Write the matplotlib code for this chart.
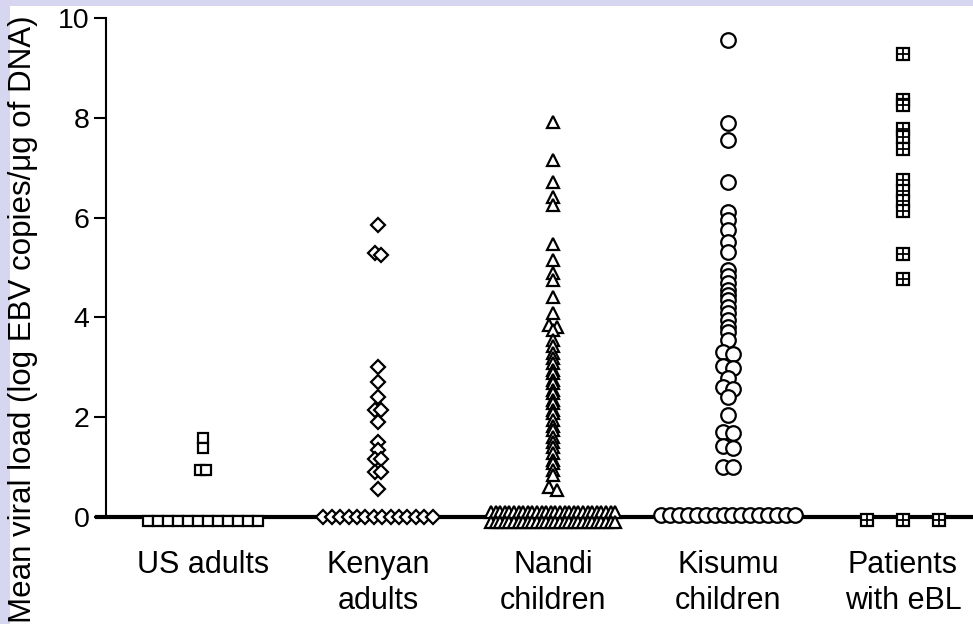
import numpy as np
import matplotlib.pyplot as plt
from matplotlib.patches import Rectangle

plt.rcParams['font.family'] = ['Liberation Sans', 'DejaVu Sans']

# Groups along the x axis
groups = ['US adults', 'Kenyan\nadults', 'Nandi\nchildren', 'Kisumu\nchildren', 'Patients\nwith eBL']

# Detectable viral loads (log EBV copies/ug of DNA)
us_adults = [1.58, 1.38, 0.95, 0.95]
kenyan_adults = [5.85, 5.3, 5.25, 3.01, 2.71, 2.41, 2.15, 2.15, 1.91, 1.51, 1.34,
                 1.17, 1.17, 0.91, 0.91, 0.57]
nandi_children = [7.92, 7.15, 6.72, 6.42, 6.25, 5.48, 5.15, 4.89, 4.75, 4.41, 4.08,
                  3.85, 3.8, 3.75, 3.55, 3.42, 3.28, 3.18, 3.08, 2.95, 2.88, 2.75,
                  2.68, 2.55, 2.48, 2.35, 2.28, 2.15, 2.08, 1.94, 1.82, 1.74, 1.6,
                  1.5, 1.4, 1.28, 1.15, 1.08, 0.94, 0.85, 0.6, 0.55]
kisumu_children = [9.55, 7.89, 7.56, 6.71, 6.12, 5.95, 5.75, 5.52, 5.32, 4.95, 4.82,
                   4.68, 4.55, 4.45, 4.35, 4.21, 4.08, 3.95, 3.81, 3.7, 3.55, 3.3,
                   3.26, 3.02, 2.98, 2.78, 2.6, 2.56, 2.41, 2.04, 1.71, 1.68, 1.43,
                   1.39, 1.01, 1.01]
ebl_patients = [9.27, 8.35, 8.25, 7.77, 7.62, 7.38, 6.76, 6.53, 6.33, 6.14, 5.27, 4.77]

# Samples below detection, drawn as a row on the zero line
n_zero = [12, 14, 56, 16, 3]

values = [us_adults, kenyan_adults, nandi_children, kisumu_children, ebl_patients]

# marker style per group: marker, size, zero-row spacing (px), zero-row rows
styles = [
    dict(marker='s', ms=7.5, gap=10.0, rows=1, dy=-4),
    dict(marker='D', ms=7.0, gap=8.4, rows=1, dy=0),
    dict(marker='^', ms=9.0, gap=4.6, rows=2, dy=0),
    dict(marker='o', ms=10.5, gap=8.9, rows=1, dy=2),
    dict(marker='s', ms=9.0, gap=36.0, rows=1, dy=-3),
]

fig = plt.figure(figsize=(9.73, 6.24), dpi=100)
fig.patch.set_facecolor('white')
lav = '#d6d6f0'
fig.add_artist(Rectangle((0, 0), 10 / 973, 1, transform=fig.transFigure,
                         facecolor=lav, edgecolor='none', zorder=0))
fig.add_artist(Rectangle((0, 1 - 6 / 624), 1, 6 / 624, transform=fig.transFigure,
                         facecolor=lav, edgecolor='none', zorder=0))

ax = fig.add_axes([106 / 973, 107 / 624, 867 / 973, 499 / 624])
ax.set_facecolor('none')

px_x = 1 / 175.0     # data units per pixel along x
px_y = 10 / 499.0    # data units per pixel along y
ax.set_xlim(-97 * px_x, 770 * px_x)
ax.set_ylim(0, 10)

for i, (vals, st) in enumerate(zip(values, styles)):
    # simple swarm: near-identical values are spread side by side
    vals = sorted(vals, reverse=True)
    xs, ys = [], []
    k = 0
    while k < len(vals):
        j = k
        while j + 1 < len(vals) and vals[k] - vals[j + 1] < 0.06:
            j += 1
        m = j - k + 1
        for q in range(m):
            xs.append(i + (q - (m - 1) / 2) * st['ms'] * 0.9 * px_x)
            ys.append(vals[k + q])
        k = j + 1

    # zero row(s)
    n = n_zero[i]
    per_row = int(np.ceil(n / st['rows']))
    zx, zy = [], []
    for r in range(st['rows']):
        cnt = min(per_row, n - r * per_row)
        row_dy = st['dy'] if st['rows'] == 1 else (5 if r == 0 else -5)
        for q in range(cnt):
            zx.append(i + (q - (per_row - 1) / 2) * st['gap'] * px_x)
            zy.append(row_dy * px_y)

    allx = xs + zx
    ally = ys + zy
    ax.plot(allx, ally, linestyle='none', marker=st['marker'], ms=st['ms'],
            mfc='white', mec='black', mew=1.6, clip_on=False, zorder=4)
    if i == 4:
        ax.plot(allx, ally, linestyle='none', marker='+', ms=st['ms'],
                mec='black', mew=1.3, clip_on=False, zorder=5)

# zero line running from the tick to the right edge
ax.axhline(0, xmin=-9 / 867, xmax=1, color='black', lw=3, clip_on=False, zorder=3)

ax.spines['top'].set_visible(False)
ax.spines['right'].set_visible(False)
ax.spines['bottom'].set_visible(False)
ax.spines['left'].set_linewidth(1.5)

ax.set_yticks([0, 2, 4, 6, 8, 10])
ax.tick_params(axis='y', direction='out', length=9, width=1.5, labelsize=20.5, pad=3)
ax.set_xticks(range(len(groups)))
ax.set_xticklabels(groups, linespacing=1.25)
ax.tick_params(axis='x', length=0, labelsize=22, pad=24)

fig.text(23 / 973, 1 - 319 / 624, 'Mean viral load (log EBV copies/\u03bcg of DNA)',
         rotation=90, ha='center', va='center', fontsize=22.5)

fig.savefig('out.png', dpi=100)
